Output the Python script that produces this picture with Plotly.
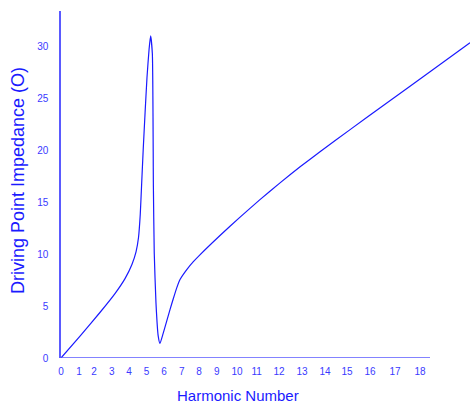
import plotly.graph_objects as go

# Curve (x in axis units, y = impedance)
harmonic_pos = [0, 1.10, 2.25, 3.12, 3.70, 4.10, 4.34, 4.48, 4.58, 4.66, 4.75, 4.86, 4.97, 5.09, 5.18,
                5.28, 5.34, 5.39, 5.49, 5.62, 5.72, 5.91, 6.30, 6.49, 6.69, 6.88, 7.27, 7.65,
                8.03, 9.19, 10.35, 11.50, 12.66, 13.82, 14.97, 16.71, 18.73, 21.33, 23.64]
impedance = [0, 2.10, 4.38, 6.20, 7.64, 9.00, 10.24, 11.6, 13.8, 16.7, 20.0, 23.6, 27.0, 29.7, 31.0,
             29.3, 16.5, 10.1, 5.3, 2.1, 1.4, 2.4, 4.66, 5.70, 6.75, 7.55, 8.51, 9.27,
             9.93, 11.79, 13.56, 15.24, 16.86, 18.40, 19.86, 21.98, 24.42, 27.55, 30.35]

# Tick labels and where they sit along the axis
x_tick_pos = [0, 1.04, 1.91, 2.93, 3.93, 4.95, 5.95, 6.98, 7.98, 9.0, 10.17, 11.31, 12.60,
              13.93, 15.26, 16.53, 17.86, 19.31, 20.75]
x_tick_text = [str(i) for i in range(19)]
y_tick_vals = [0, 5, 10, 15, 20, 25, 30]

x_axis_end = 21.33

BLUE = "#1a1aff"
AXIS = "#5a5aff"
LABEL = "#3a3aff"

fig = go.Figure()
fig.add_trace(go.Scatter(x=harmonic_pos, y=impedance, mode="lines",
                         line=dict(color=BLUE, width=1.2, shape="spline", smoothing=0.5),
                         hoverinfo="skip"))

fig.add_shape(type="line", xref="x", yref="y", x0=0, x1=x_axis_end, y0=0, y1=0,
              line=dict(color=AXIS, width=1.5), layer="above")

fig.update_layout(
    width=470, height=405,
    margin=dict(l=61, r=0, t=11, b=47, autoexpand=False),
    paper_bgcolor="white", plot_bgcolor="white",
    showlegend=False,
    font=dict(family="Liberation Sans, Arial, sans-serif", color=LABEL, size=10),
    xaxis=dict(range=[0, 23.64], showgrid=False, zeroline=False, showline=False,
               tickmode="array", tickvals=x_tick_pos, ticktext=x_tick_text,
               ticks="", ticklabelstandoff=6, tickfont=dict(size=10, color=LABEL)),
    yaxis=dict(range=[0, 33.4], showgrid=False, zeroline=False, showline=True,
               linecolor=AXIS, linewidth=1.5,
               tickmode="array", tickvals=y_tick_vals,
               ticks="", ticklabelstandoff=9, tickfont=dict(size=10, color=LABEL)),
    annotations=[
        dict(text="Driving Point Impedance (O)", xref="paper", yref="paper",
             x=(18 - 61) / 409, y=(358 - 181) / 347, textangle=-90, showarrow=False,
             xanchor="center", yanchor="middle",
             font=dict(size=18, color=BLUE, family="Liberation Sans, Arial, sans-serif")),
        dict(text="Harmonic Number", xref="paper", yref="paper",
             x=(238 - 61) / 409, y=(358 - 395) / 347, showarrow=False,
             xanchor="center", yanchor="middle",
             font=dict(size=15, color=BLUE, family="Liberation Sans, Arial, sans-serif")),
    ],
)

fig.write_html("out.html", config={"displayModeBar": False},
               post_script="document.body.style.margin='0';document.body.style.overflow='hidden';")
